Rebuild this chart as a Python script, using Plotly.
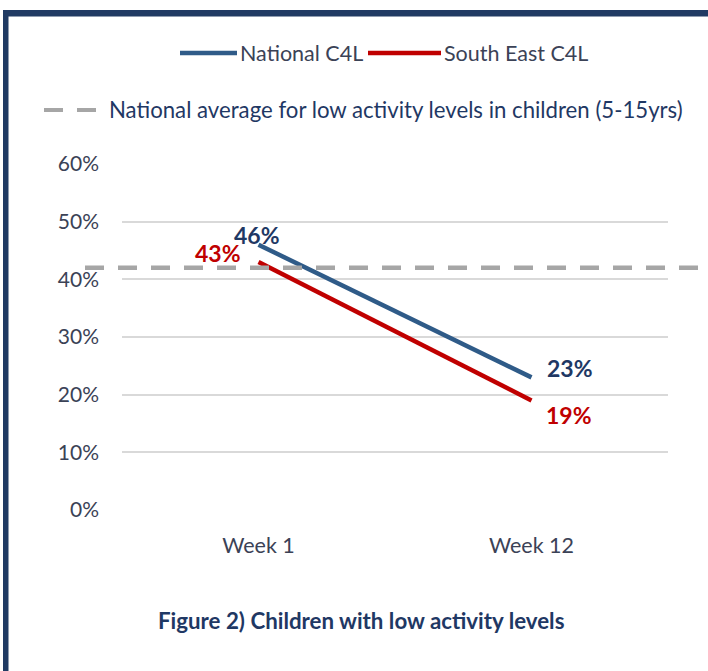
import plotly.graph_objects as go

# Chart data
weeks = ["Week 1", "Week 12"]
national_c4l = [46, 23]
south_east_c4l = [43, 19]
national_average = 42
y_ticks = [0, 10, 20, 30, 40, 50, 60]
y_tick_labels = [f"{t}%" for t in y_ticks]

W, H = 708, 671
PLOT_L, PLOT_R, PLOT_T, PLOT_B = 122, 668, 164, 510

NAVY = "#1f3864"
BLUE = "#2f5b88"
RED = "#c00000"
GREY_TEXT = "#3b4256"
FONT = "Lato"


def px(xp):
    return (xp - PLOT_L) / (PLOT_R - PLOT_L)


def py(yp):
    return (PLOT_B - yp) / (PLOT_B - PLOT_T)


fig = go.Figure()
fig.add_trace(go.Scatter(x=weeks, y=national_c4l, mode="lines", name="National C4L",
                         line=dict(color=BLUE, width=4.5), showlegend=False, hoverinfo="skip"))
fig.add_trace(go.Scatter(x=weeks, y=south_east_c4l, mode="lines", name="South East C4L",
                         line=dict(color=RED, width=4.5), showlegend=False, hoverinfo="skip"))

shapes = []
annotations = []

# National average reference line, extending past the plot area
shapes.append(dict(type="line", xref="paper", yref="y", x0=px(85), x1=px(712),
                   y0=national_average, y1=national_average,
                   line=dict(color="#a6a6a6", width=4.5, dash="19px,14px"), layer="above"))

# Value labels
label_offsets = {
    ("nat", 0): (-2, 10), ("nat", 1): (38, 9),
    ("se", 0): (-41, 9), ("se", 1): (37, -15),
}
for key, values, color in (("nat", national_c4l, NAVY), ("se", south_east_c4l, RED)):
    for i, v in enumerate(values):
        dx, dy = label_offsets[(key, i)]
        annotations.append(dict(x=weeks[i], y=v, xref="x", yref="y", text=f"<b>{v}%</b>",
                                showarrow=False, xshift=dx, yshift=dy,
                                font=dict(family=FONT, size=23, color=color)))

# Legend row 1
for x0, x1, color, label, tx in ((180, 237, BLUE, "National C4L", 238),
                                  (368, 441, RED, "South East C4L", 442)):
    shapes.append(dict(type="line", xref="paper", yref="paper", x0=px(x0), x1=px(x1),
                       y0=py(53), y1=py(53), line=dict(color=color, width=4.5)))
    annotations.append(dict(x=px(tx), y=py(53), xref="paper", yref="paper", text=label,
                            showarrow=False, xanchor="left", yanchor="middle",
                            font=dict(family=FONT, size=21.5, color=GREY_TEXT)))

# Legend row 2
shapes.append(dict(type="line", xref="paper", yref="paper", x0=px(44), x1=px(96),
                   y0=py(110), y1=py(110),
                   line=dict(color="#a6a6a6", width=4, dash="19px,14px")))
annotations.append(dict(x=px(107), y=py(110), xref="paper", yref="paper",
                        text="National average for low activity levels in children (5-15yrs)",
                        showarrow=False, xanchor="left", yanchor="middle",
                        font=dict(family=FONT, size=22.2, color=NAVY)))

# Caption
annotations.append(dict(x=px(361), y=py(620), xref="paper", yref="paper",
                        text="<b>Figure 2) Children with low activity levels</b>",
                        showarrow=False, xanchor="center", yanchor="middle",
                        font=dict(family=FONT, size=22.3, color=NAVY)))

# Frame on top and left edges
shapes.append(dict(type="rect", xref="paper", yref="paper", x0=px(3), x1=px(710),
                   y0=py(10), y1=py(16.5), fillcolor="#203a63", line=dict(width=0)))
shapes.append(dict(type="rect", xref="paper", yref="paper", x0=px(3), x1=px(8.5),
                   y0=py(10), y1=py(675), fillcolor="#203a63", line=dict(width=0)))

fig.update_layout(
    width=W, height=H,
    margin=dict(l=PLOT_L, r=W - PLOT_R, t=PLOT_T, b=H - PLOT_B, pad=0),
    paper_bgcolor="white", plot_bgcolor="white",
    shapes=shapes, annotations=annotations,
    xaxis=dict(type="category", range=[-0.5, 1.5], showgrid=False, zeroline=False,
               showline=False, ticks="", ticklabelstandoff=20,
               tickfont=dict(family=FONT, size=21.5, color=GREY_TEXT)),
    yaxis=dict(range=[0, 60], tickvals=y_ticks, ticktext=y_tick_labels,
               showgrid=True, gridcolor="#d9d9d9", gridwidth=1.5, zeroline=False,
               showline=False, ticks="", ticklabelstandoff=22,
               tickfont=dict(family=FONT, size=21, color=GREY_TEXT)),
)

fig.write_html("out.html")
